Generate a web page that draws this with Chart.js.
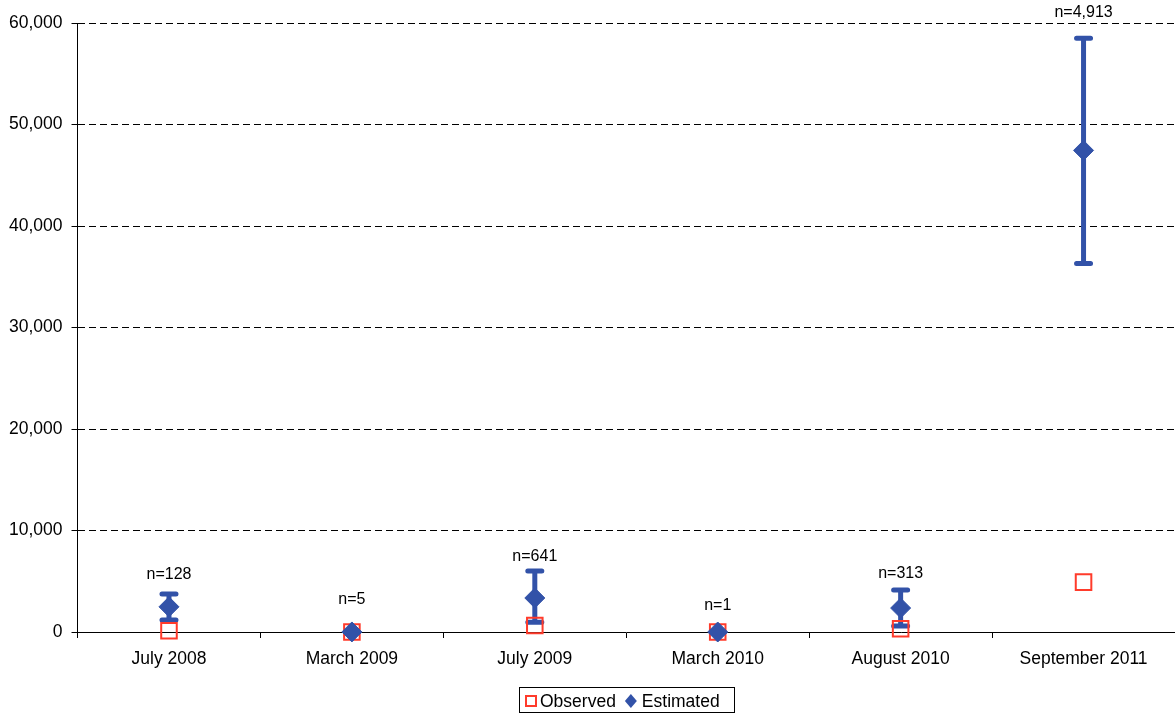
<!DOCTYPE html>
<html><head><meta charset="utf-8">
<script src="https://cdn.jsdelivr.net/npm/chart.js@4/dist/chart.umd.min.js"></script>
<style>html,body{margin:0;padding:0;background:#fff}#wrap{width:1175px;height:714px;position:relative}</style>
</head><body><div id="wrap"><canvas id="c" width="1175" height="714"></canvas></div>
<script>
const categories = ['July 2008','March 2009','July 2009','March 2010','August 2010','September 2011'];
const observed = [128, 5, 641, 1, 313, 4913];
const estimated = [2480, 5, 3350, 1, 2360, 47450];
const estimatedLow = [1180, 5, 950, 1, 600, 36300];
const estimatedHigh = [3750, 5, 6000, 1, 4150, 58500];
const sampleLabels = ['n=128','n=5','n=641','n=1','n=313','n=4,913'];
const labelValues = [5620, 3150, 7390, 2560, 5710, 60990];
const yMin = 0, yMax = 60000, yStep = 10000;

const BLUE = '#3252A8';
const RED = '#FF3B2B';
const FONT = "'Liberation Sans', Arial, sans-serif";

const extras = {
  id: 'extras',
  beforeDatasetsDraw(chart) {
    const {ctx, scales: {x, y}} = chart;
    ctx.save();
    ctx.strokeStyle = BLUE;
    for (let i = 0; i < categories.length; i++) {
      if (estimatedHigh[i] === estimatedLow[i]) continue;
      const px = x.getPixelForValue(i);
      const yl = y.getPixelForValue(estimatedLow[i]);
      const yh = y.getPixelForValue(estimatedHigh[i]);
      ctx.lineWidth = 5;
      ctx.lineCap = 'butt';
      ctx.beginPath(); ctx.moveTo(px, yl); ctx.lineTo(px, yh); ctx.stroke();
      ctx.lineCap = 'round';
      ctx.beginPath();
      ctx.moveTo(px - 7, yl); ctx.lineTo(px + 7, yl);
      ctx.moveTo(px - 7, yh); ctx.lineTo(px + 7, yh);
      ctx.stroke();
    }
    ctx.restore();
  },
  afterDatasetsDraw(chart) {
    const {ctx, scales: {x, y}} = chart;
    ctx.save();
    ctx.fillStyle = '#000';
    ctx.font = '16px ' + FONT;
    ctx.textAlign = 'center';
    ctx.textBaseline = 'middle';
    for (let i = 0; i < categories.length; i++) {
      ctx.fillText(sampleLabels[i], x.getPixelForValue(i), y.getPixelForValue(labelValues[i]));
    }
    ctx.restore();
  },
  afterDraw(chart) {
    // legend built from the dataset definitions
    const ctx = chart.ctx;
    const ca = chart.chartArea;
    const ds = chart.data.datasets;
    ctx.save();
    ctx.font = '17.5px ' + FONT;
    const w0 = ctx.measureText(ds[0].label).width;
    const w1 = ctx.measureText(ds[1].label).width;
    const total = 6 + 12 + 3 + w0 + 9 + 12 + 5 + w1 + 14;
    const left = Math.round((ca.left + ca.right) / 2 - total / 2);
    const cy = 701;
    ctx.strokeStyle = '#000';
    ctx.lineWidth = 1;
    ctx.strokeRect(left + 0.5, 687.5, Math.round(total), 25);
    let xx = left + 6;
    ctx.strokeStyle = RED; ctx.lineWidth = 2;
    ctx.strokeRect(xx + 1, cy - 5, 10, 10);
    xx += 12 + 3;
    ctx.fillStyle = '#000'; ctx.textAlign = 'left'; ctx.textBaseline = 'middle';
    ctx.fillText(ds[0].label, xx, cy + 1);
    xx += w0 + 9;
    ctx.fillStyle = BLUE;
    ctx.beginPath();
    ctx.moveTo(xx + 6, cy - 7); ctx.lineTo(xx + 12, cy); ctx.lineTo(xx + 6, cy + 7); ctx.lineTo(xx, cy);
    ctx.closePath(); ctx.fill();
    xx += 12 + 5;
    ctx.fillStyle = '#000';
    ctx.fillText(ds[1].label, xx, cy + 1);
    ctx.restore();
  }
};

new Chart(document.getElementById('c'), {
  type: 'line',
  data: {
    labels: categories,
    datasets: [
      {
        label: 'Observed', data: observed, showLine: false, order: 1, clip: false,
        pointStyle: 'rect', pointRadius: 11, pointHoverRadius: 11,
        borderColor: RED, backgroundColor: 'rgba(0,0,0,0)', borderWidth: 2, pointBorderWidth: 2
      },
      {
        label: 'Estimated', data: estimated, showLine: false, order: 0, clip: false,
        pointStyle: 'rectRot', pointRadius: 10, pointHoverRadius: 10,
        borderColor: BLUE, backgroundColor: BLUE, borderWidth: 1
      }
    ]
  },
  options: {
    responsive: false,
    devicePixelRatio: 1,
    animation: false,
    events: [],
    layout: { autoPadding: false, padding: { left: 0, right: 0, top: 23, bottom: 33 } },
    plugins: {
      tooltip: { enabled: false },
      legend: { display: false }
    },
    scales: {
      x: {
        type: 'category', offset: true,
        grid: { offset: true, drawOnChartArea: false, drawTicks: true, tickLength: 6, color: '#000' },
        border: { display: true, color: '#000', width: 1 },
        ticks: { color: '#000', font: { size: 17.5, family: FONT }, padding: 11, maxRotation: 0, autoSkip: false }
      },
      y: {
        min: yMin, max: yMax,
        grid: {
          color: c => (c.tick && c.tick.value === 0) ? 'rgba(0,0,0,0)' : '#000',
          lineWidth: 1,
          tickColor: '#000', tickBorderDash: [], tickLength: 6
        },
        border: { display: true, color: '#000', width: 1, dash: [7, 4] },
        ticks: {
          stepSize: yStep, color: '#000', font: { size: 17.5, family: FONT }, padding: 9,
          callback: v => v.toLocaleString('en-US')
        }
      }
    }
  },
  plugins: [extras]
});
</script></body></html>
